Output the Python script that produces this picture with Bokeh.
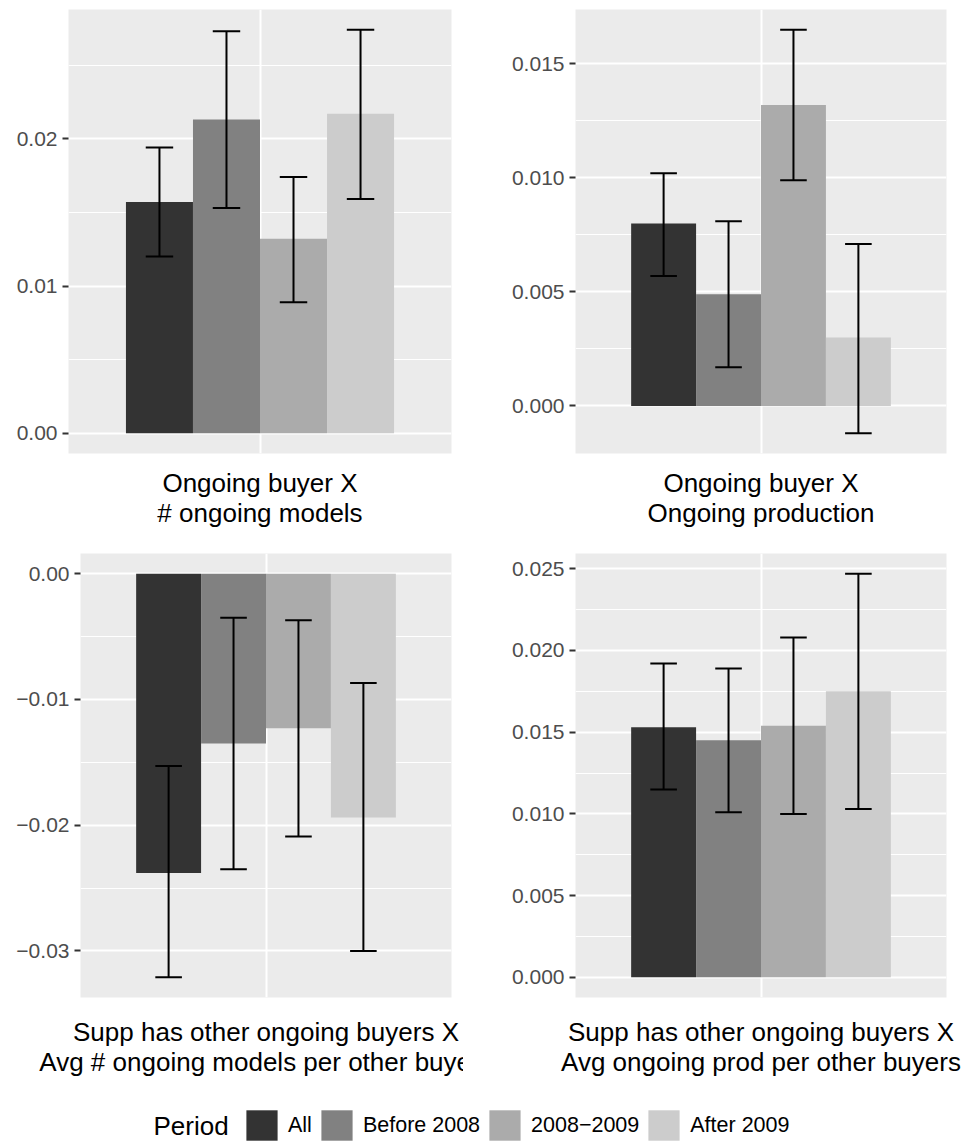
from bokeh.plotting import figure
from bokeh.layouts import column, row
from bokeh.models import FixedTicker, Range1d, Legend, LegendItem, Label
from bokeh.embed import file_html
from bokeh.resources import INLINE

# ---------------- data ----------------
periods = ["All", "Before 2008", "2008\u22122009", "After 2009"]
fill_colors = ["#333333", "#818181", "#ABABAB", "#CCCCCC"]

p1_title = "Ongoing buyer X\n# ongoing models"
p1_est = [0.0157, 0.0213, 0.0132, 0.0217]
p1_lo = [0.0120, 0.0153, 0.0089, 0.0159]
p1_hi = [0.0194, 0.0273, 0.0174, 0.0274]
p1_ticks = [0.0, 0.01, 0.02]
p1_labels = ["0.00", "0.01", "0.02"]

p2_title = "Ongoing buyer X\nOngoing production"
p2_est = [0.0080, 0.0049, 0.0132, 0.0030]
p2_lo = [0.0057, 0.0017, 0.0099, -0.0012]
p2_hi = [0.0102, 0.0081, 0.0165, 0.0071]
p2_ticks = [0.0, 0.005, 0.010, 0.015]
p2_labels = ["0.000", "0.005", "0.010", "0.015"]

p3_title = "Supp has other ongoing buyers X\nAvg # ongoing models per other buyers"
p3_est = [-0.0238, -0.0135, -0.0123, -0.0194]
p3_lo = [-0.0321, -0.0235, -0.0209, -0.0300]
p3_hi = [-0.0153, -0.0035, -0.0037, -0.0087]
p3_ticks = [-0.03, -0.02, -0.01, 0.0]
p3_labels = ["\u22120.03", "\u22120.02", "\u22120.01", "0.00"]

p4_title = "Supp has other ongoing buyers X\nAvg ongoing prod per other buyers"
p4_est = [0.0153, 0.0145, 0.0154, 0.0175]
p4_lo = [0.0115, 0.0101, 0.0100, 0.0103]
p4_hi = [0.0192, 0.0189, 0.0208, 0.0247]
p4_ticks = [0.0, 0.005, 0.010, 0.015, 0.020, 0.025]
p4_labels = ["0.000", "0.005", "0.010", "0.015", "0.020", "0.025"]

# ---------------- style ----------------
FONT = "Liberation Sans"
BAR_W = 0.21
WHISK_HALF = 0.043


def make_panel(title, est, lo, hi, ticks, labels, width, height,
               left, right, top, bottom, standoff):
    ymin = min(0.0, min(lo), min(est))
    ymax = max(0.0, max(hi), max(est))
    pad = 0.05 * (ymax - ymin)
    p = figure(width=width, height=height,
               x_range=Range1d(0.4, 1.6),
               y_range=Range1d(ymin - pad, ymax + pad),
               output_backend="svg", toolbar_location=None,
               min_border_left=left, min_border_right=right,
               min_border_top=top, min_border_bottom=bottom)
    p.background_fill_color = "#EBEBEB"
    p.border_fill_color = "white"
    p.outline_line_color = None

    xs = [1 + (i - 1.5) * BAR_W for i in range(len(est))]
    p.vbar(x=xs, top=est, bottom=0, width=BAR_W,
           fill_color=fill_colors, line_color=None)
    p.segment(x0=xs, y0=lo, x1=xs, y1=hi, line_color="black", line_width=2)
    p.segment(x0=[x - WHISK_HALF for x in xs], y0=hi,
              x1=[x + WHISK_HALF for x in xs], y1=hi,
              line_color="black", line_width=2)
    p.segment(x0=[x - WHISK_HALF for x in xs], y0=lo,
              x1=[x + WHISK_HALF for x in xs], y1=lo,
              line_color="black", line_width=2)

    step = ticks[1] - ticks[0]
    minor = [t + step / 2 for t in ticks] + [ticks[0] - step / 2]
    p.yaxis.ticker = FixedTicker(ticks=ticks, minor_ticks=minor)
    p.yaxis.major_label_overrides = {t: s for t, s in zip(ticks, labels)}
    p.yaxis.axis_line_color = None
    p.yaxis.major_tick_line_color = "#333333"
    p.yaxis.major_tick_line_width = 2
    p.yaxis.major_tick_out = 6
    p.yaxis.major_tick_in = 0
    p.yaxis.minor_tick_line_color = None
    p.yaxis.major_label_text_font = FONT
    p.yaxis.major_label_text_font_size = "21px"
    p.yaxis.major_label_text_color = "#4D4D4D"
    p.yaxis.major_label_standoff = 5

    p.ygrid.grid_line_color = "white"
    p.ygrid.grid_line_width = 2
    p.ygrid.minor_grid_line_color = "white"
    p.ygrid.minor_grid_line_width = 1

    p.xaxis.ticker = FixedTicker(ticks=[1])
    p.xaxis.major_label_overrides = {1: ""}
    p.xaxis.major_label_text_font_size = "0px"
    p.xaxis.major_label_standoff = 0
    p.xaxis.major_tick_out = 0
    p.xaxis.major_tick_in = 0
    p.xaxis.minor_tick_line_color = None
    p.xaxis.axis_line_color = None
    p.xaxis.axis_label = title
    p.xaxis.axis_label_text_font = FONT
    p.xaxis.axis_label_text_font_size = "26px"
    p.xaxis.axis_label_text_font_style = "normal"
    p.xaxis.axis_label_text_color = "black"
    p.xaxis.axis_label_text_line_height = 1.0
    p.xaxis.axis_label_standoff = standoff
    p.xgrid.grid_line_color = "white"
    p.xgrid.grid_line_width = 2
    return p


p1 = make_panel(p1_title, p1_est, p1_lo, p1_hi, p1_ticks, p1_labels,
                463, 547, 68, 12, 9, 94, 14)
p2 = make_panel(p2_title, p2_est, p2_lo, p2_hi, p2_ticks, p2_labels,
                505, 547, 112, 22, 9, 94, 14)
p3 = make_panel(p3_title, p3_est, p3_lo, p3_hi, p3_ticks, p3_labels,
                463, 533, 80, 12, 6, 83, 19)
p4 = make_panel(p4_title, p4_est, p4_lo, p4_hi, p4_ticks, p4_labels,
                505, 533, 112, 22, 6, 83, 19)

# ---------------- legend ----------------
leg = figure(width=968, height=64, x_range=Range1d(0, 1), y_range=Range1d(0, 1),
             output_backend="svg", toolbar_location=None, min_border=0,
             x_axis_location=None, y_axis_location=None)
leg.outline_line_color = None
leg.grid.visible = False
items = []
for name, c in zip(periods, fill_colors):
    r = leg.vbar(x=[5], top=[1], width=0.5, fill_color=c, line_color=None)
    items.append(LegendItem(label=name, renderers=[r]))
legend = Legend(items=items, orientation="horizontal", location=(242, 0),
                padding=0, margin=0, spacing=5, label_standoff=7,
                glyph_width=39, glyph_height=38,
                border_line_color=None, background_fill_alpha=0,
                label_text_font=FONT, label_text_font_size="21.5px",
                label_text_color="black")
leg.add_layout(legend)
leg.add_layout(Label(x=153, y=19, x_units="screen", y_units="screen",
                     text="Period", text_baseline="middle", text_align="left",
                     text_font=FONT, text_font_size="26px", text_color="black"))

layout = column(row(p1, p2), row(p3, p4), leg)
open("out.html", "w").write(file_html(layout, INLINE))
